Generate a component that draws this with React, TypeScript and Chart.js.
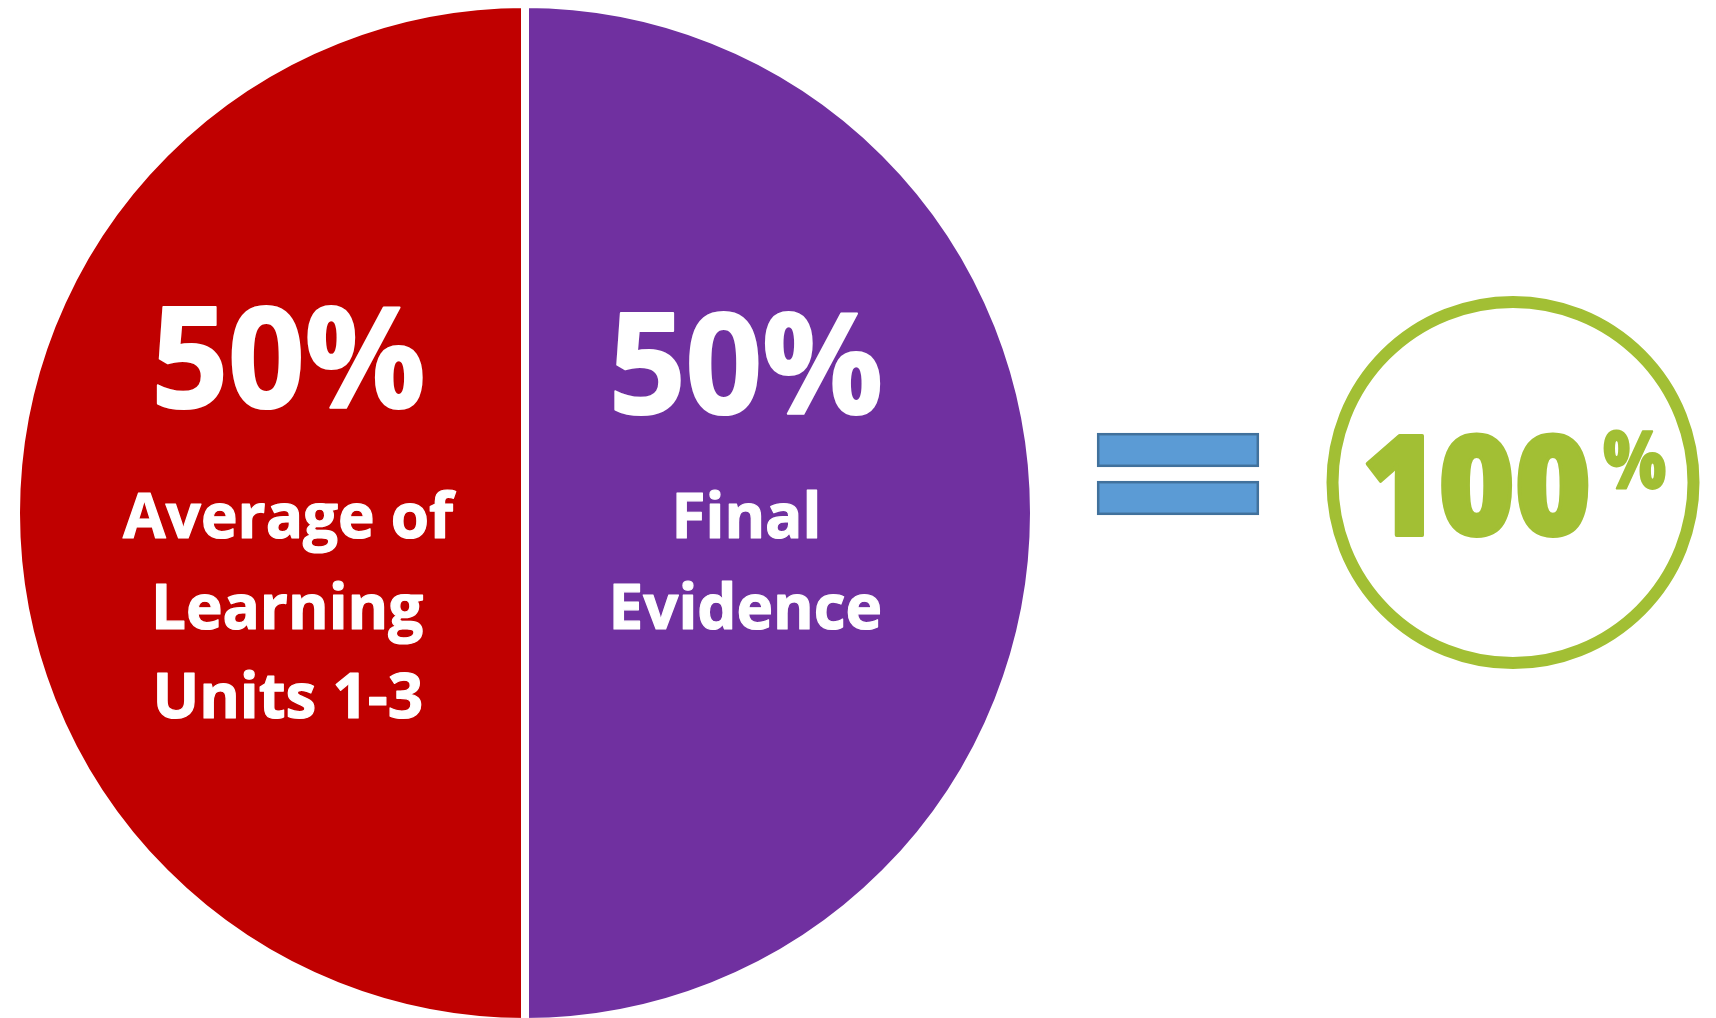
import React, { useEffect, useRef } from "react";
import { Chart, registerables } from "chart.js";

Chart.register(...registerables);

// ---- data ----
const categories: string[] = ["Average of Learning Units 1-3", "Final Evidence"];
const shares: number[] = [50, 50];
const sliceLabelLines: string[][] = [["Average of", "Learning", "Units 1-3"], ["Final", "Evidence"]];
const sliceColors: string[] = ["#C00000", "#7030A0"];

const FONT = '"Open Sans", "Noto Sans", sans-serif';

type Style = { weight: number; spacing: number; stroke: number };

function setFont(ctx: CanvasRenderingContext2D, size: number, st: Style) {
  ctx.font = `${st.weight} ${size}px ${FONT}`;
  (ctx as any).letterSpacing = `${(st.spacing * size) / 100}px`;
}

function measureInk(ctx: CanvasRenderingContext2D, text: string) {
  const m = ctx.measureText(text);
  return {
    left: m.actualBoundingBoxLeft,
    right: m.actualBoundingBoxRight,
    ascent: m.actualBoundingBoxAscent,
    width: m.actualBoundingBoxLeft + m.actualBoundingBoxRight,
  };
}

// draw text with its ink centred on cx; inkBottom is the wanted baseline of the visible ink
function drawCentered(ctx: CanvasRenderingContext2D, text: string, cx: number, inkBottom: number, size: number, sx: number, st: Style, color: string) {
  ctx.save();
  setFont(ctx, size, st);
  ctx.textAlign = "left";
  ctx.textBaseline = "alphabetic";
  ctx.fillStyle = color;
  ctx.strokeStyle = color;
  ctx.lineJoin = "round";
  ctx.lineWidth = st.stroke;
  const ink = measureInk(ctx, text);
  ctx.translate(cx, inkBottom - st.stroke / 2);
  ctx.scale(sx, 1);
  const x0 = -(ink.right - ink.left) / 2;
  ctx.fillText(text, x0, 0);
  if (st.stroke > 0) ctx.strokeText(text, x0, 0);
  ctx.restore();
}

// font size giving a wanted visible ink height for a sample string
function sizeFor(ctx: CanvasRenderingContext2D, sample: string, ascent: number, st: Style) {
  ctx.save();
  setFont(ctx, 100, st);
  const a = measureInk(ctx, sample).ascent;
  ctx.restore();
  return (100 * (ascent - st.stroke)) / a;
}
function scaleFor(ctx: CanvasRenderingContext2D, sample: string, size: number, width: number, st: Style) {
  ctx.save();
  setFont(ctx, size, st);
  const w = measureInk(ctx, sample).width;
  ctx.restore();
  return (width - st.stroke) / w;
}

const PCT_STYLE: Style = { weight: 700, spacing: -0.5, stroke: 2 };
const LINE_STYLE: Style = { weight: 700, spacing: 0, stroke: 1.2 };
const NUM_STYLE: Style = { weight: 800, spacing: 0, stroke: 4 };
const SUP_STYLE: Style = { weight: 800, spacing: 0, stroke: 2 };

const sliceLabelPlugin = {
  id: "sliceLabels",
  afterDatasetsDraw(chart: any) {
    const ctx: CanvasRenderingContext2D = chart.ctx;
    const meta = chart.getDatasetMeta(0);
    const data = chart.data.datasets[0].data as number[];
    const total = data.reduce((a, b) => a + b, 0);
    // layout (fractions of the outer radius)
    const cxFrac = [-0.4627, 0.4361];
    const pctBaseFrac = [-0.2043, -0.1925];
    const lineBaseFrac = [0.0511, 0.2299, 0.4047];

    const pctSize = sizeFor(ctx, "50%", 104, PCT_STYLE);
    const pctSx = scaleFor(ctx, "50%", pctSize, 267, PCT_STYLE);
    const lineSize = sizeFor(ctx, "H", 46, LINE_STYLE);
    const lineSx = scaleFor(ctx, "Average of", lineSize, 334, LINE_STYLE);

    meta.data.forEach((arc: any, i: number) => {
      const { x, y, outerRadius } = arc.getProps(["x", "y", "outerRadius"], true);
      const cx = x + cxFrac[i] * outerRadius;
      const pct = Math.round((data[i] / total) * 100) + "%";
      drawCentered(ctx, pct, cx, y + pctBaseFrac[i] * outerRadius, pctSize, pctSx, PCT_STYLE, "#FFFFFF");
      sliceLabelLines[i].forEach((line, j) => {
        drawCentered(ctx, line, cx, y + lineBaseFrac[j] * outerRadius, lineSize, lineSx, LINE_STYLE, "#FFFFFF");
      });
    });
  },
};

const totalPlugin = {
  id: "totalBadge",
  afterDraw(chart: any) {
    const ctx: CanvasRenderingContext2D = chart.ctx;
    const data = chart.data.datasets[0].data as number[];
    const total = data.reduce((a, b) => a + b, 0);
    ctx.save();
    // equals sign
    ctx.fillStyle = "#5B9BD5";
    ctx.strokeStyle = "#41719C";
    ctx.lineWidth = 2.5;
    [434.2, 482.2].forEach((top) => {
      ctx.fillRect(1098.2, top, 159.6, 31.6);
      ctx.strokeRect(1098.2, top, 159.6, 31.6);
    });
    // green ring
    ctx.beginPath();
    ctx.arc(1513, 482.5, 180.5, 0, Math.PI * 2);
    ctx.lineWidth = 12;
    ctx.strokeStyle = "#A2BF34";
    ctx.stroke();
    ctx.restore();

    const green = "#A2BF34";
    const numSize = sizeFor(ctx, "100", 104, NUM_STYLE);
    const numSx = scaleFor(ctx, "100", numSize, 224, NUM_STYLE);
    drawCentered(ctx, String(total), 1477, 537, numSize, numSx, NUM_STYLE, green);
    const pSize = sizeFor(ctx, "%", 59, SUP_STYLE);
    const pSx = scaleFor(ctx, "%", pSize, 63, SUP_STYLE);
    drawCentered(ctx, "%", 1634.5, 489, pSize, pSx, SUP_STYLE, green);
  },
};

export default function App() {
  const canvasRef = useRef<HTMLCanvasElement | null>(null);

  useEffect(() => {
    if (!canvasRef.current) return;
    const chart = new Chart(canvasRef.current, {
      type: "pie",
      data: {
        labels: categories,
        datasets: [
          {
            data: shares,
            backgroundColor: sliceColors,
            borderColor: "#FFFFFF",
            borderWidth: 8,
            hoverOffset: 0,
          },
        ],
      },
      options: {
        responsive: false,
        animation: false,
        events: [],
        rotation: 180,
        layout: { padding: { left: 12, right: 678, top: 0, bottom: 14 } },
        plugins: {
          legend: { display: false },
          tooltip: { enabled: false },
        },
      },
      plugins: [sliceLabelPlugin, totalPlugin],
    } as any);
    return () => chart.destroy();
  }, []);

  return (
    <div style={{ position: "fixed", left: 0, top: 0, width: 1716, height: 1018, overflow: "hidden", background: "#FFFFFF" }}>
      <canvas ref={canvasRef} width={1716} height={1040} style={{ display: "block", width: 1716, height: 1040 }} />
    </div>
  );
}
